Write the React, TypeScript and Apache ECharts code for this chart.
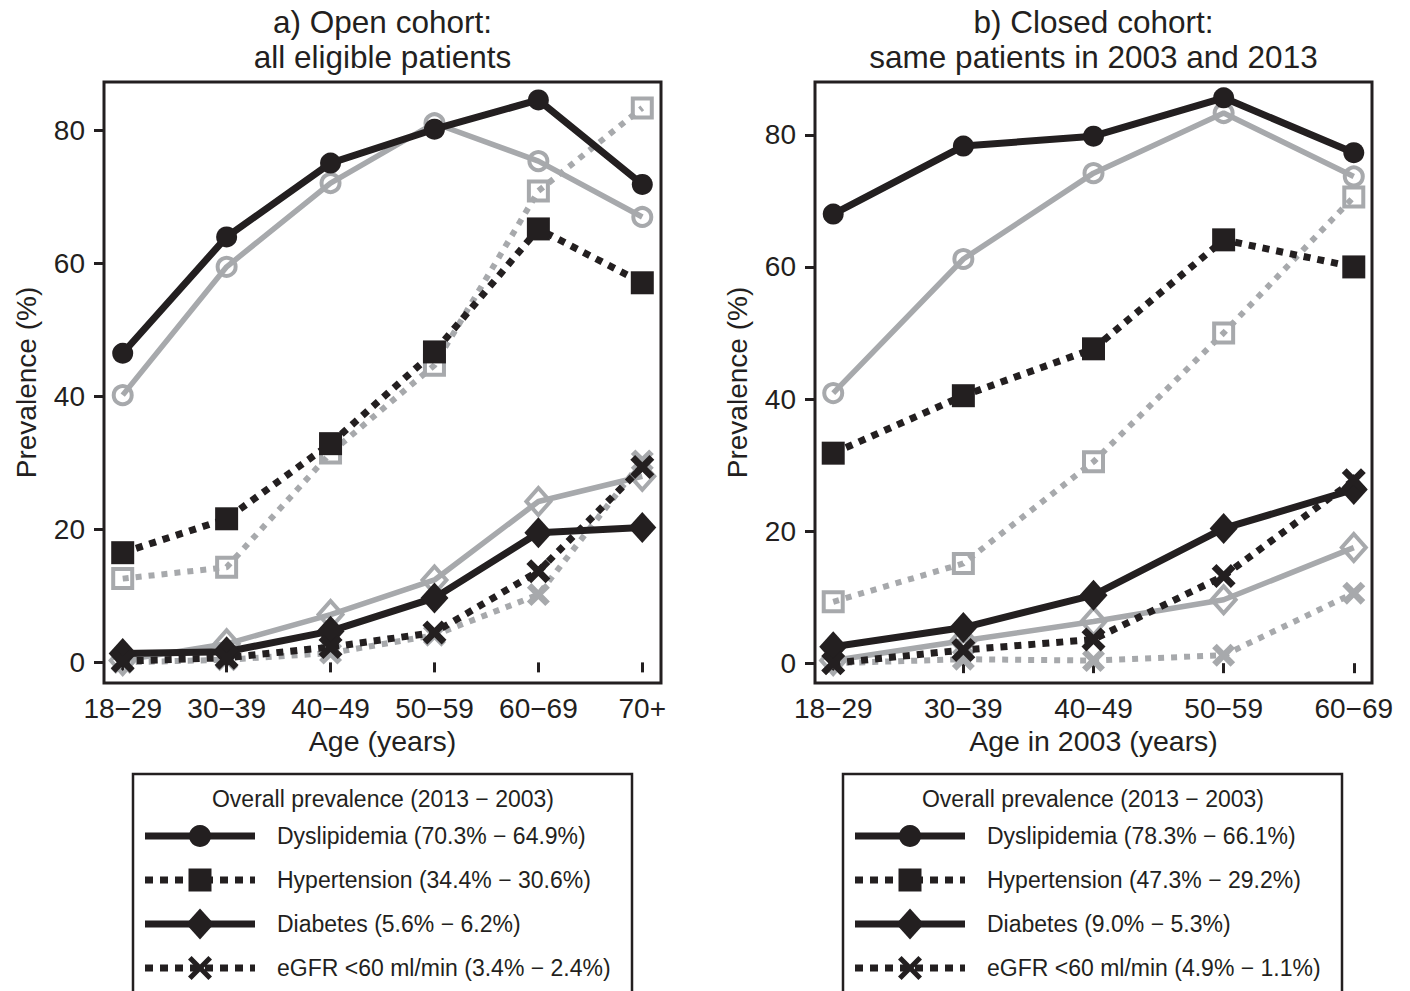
import { useEffect, useRef } from "react";
import * as echarts from "echarts";

// ---------- data ----------
const CATS_A = ["18−29", "30−39", "40−49", "50−59", "60−69", "70+"];
const CATS_B = ["18−29", "30−39", "40−49", "50−59", "60−69"];
const Y_TICKS = [0, 20, 40, 60, 80];

// Panel a) open cohort
const A_DYS_2013 = [46.5, 64.0, 75.1, 80.2, 84.6, 71.9];
const A_DYS_2003 = [40.2, 59.5, 72.1, 81.1, 75.4, 67.0];
const A_HTN_2013 = [16.5, 21.6, 32.9, 46.7, 65.2, 57.1];
const A_HTN_2003 = [12.6, 14.3, 31.5, 44.7, 70.9, 83.4];
const A_DIA_2013 = [1.35, 1.6, 4.7, 9.7, 19.5, 20.3];
const A_DIA_2003 = [0.3, 2.8, 7.2, 12.4, 24.2, 28.0];
const A_EGFR_2013 = [0.2, 0.7, 2.3, 4.5, 13.7, 29.4];
const A_EGFR_2003 = [0.0, 0.4, 1.4, 4.1, 10.2, 30.3];

// Panel b) closed cohort
const B_DYS_2013 = [68.0, 78.3, 79.8, 85.6, 77.3];
const B_DYS_2003 = [40.9, 61.2, 74.2, 83.3, 73.7];
const B_HTN_2013 = [31.8, 40.5, 47.6, 64.1, 60.0];
const B_HTN_2003 = [9.3, 15.1, 30.5, 50.0, 70.6];
const B_DIA_2013 = [2.5, 5.4, 10.3, 20.4, 26.3];
const B_DIA_2003 = [0.4, 3.4, 6.3, 9.6, 17.5];
const B_EGFR_2013 = [0.0, 2.0, 3.6, 13.2, 27.7];
const B_EGFR_2003 = [0.0, 0.6, 0.4, 1.2, 10.6];

const TITLE_A = ["a) Open cohort:", "all eligible patients"];
const TITLE_B = ["b) Closed cohort:", "same patients in 2003 and 2013"];
const X_NAME_A = "Age (years)";
const X_NAME_B = "Age in 2003 (years)";
const Y_NAME = "Prevalence (%)";
const LEGEND_TITLE = "Overall prevalence (2013 − 2003)";
const LEG_A = [
  "Dyslipidemia (70.3% − 64.9%)",
  "Hypertension (34.4% − 30.6%)",
  "Diabetes (5.6% − 6.2%)",
  "eGFR <60 ml/min (3.4% − 2.4%)",
];
const LEG_B = [
  "Dyslipidemia (78.3% − 66.1%)",
  "Hypertension (47.3% − 29.2%)",
  "Diabetes (9.0% − 5.3%)",
  "eGFR <60 ml/min (4.9% − 1.1%)",
];

// ---------- styles ----------
const BLACK = "#231f20";
const GRAY = "#a7a9ac";
const FONT = "'Liberation Sans', Arial, Helvetica, sans-serif";
const X_PATH =
  "path://M0,2 L2,0 L5,3 L8,0 L10,2 L7,5 L10,8 L8,10 L5,7 L2,10 L0,8 L3,5 Z";

type Kind = "dys" | "htn" | "dia" | "egfr";

function mkSeries(name: string, vals: number[], idx: number, kind: Kind, black: boolean) {
  const dotted = kind === "htn" || kind === "egfr";
  const color = black ? BLACK : GRAY;
  let symbol = "circle";
  let symbolSize: any = 21;
  if (kind === "dys") symbolSize = black ? 21 : 18;
  if (kind === "htn") {
    symbol = "rect";
    symbolSize = black ? 23 : 19;
  }
  if (kind === "dia") {
    symbol = "diamond";
    symbolSize = black ? [28, 31] : [24, 27];
  }
  if (kind === "egfr") {
    symbol = X_PATH;
    symbolSize = black ? 24 : 23;
  }
  const hollow = !black && kind !== "egfr";
  return {
    type: "line",
    name,
    xAxisIndex: idx,
    yAxisIndex: idx,
    data: vals.map((v, i) => [i + 1, v]),
    symbol,
    symbolSize,
    showAllSymbol: true,
    z: black ? 3 : 2,
    itemStyle: hollow
      ? { color: "rgba(255,255,255,0)", borderColor: GRAY, borderWidth: 4 }
      : { color, borderWidth: 0 },
    lineStyle: {
      color,
      width: black ? 7 : dotted ? 6 : 5.5,
      type: dotted ? (black ? [7, 7] : [6, 7]) : "solid",
      cap: "butt",
    },
    emphasis: { disabled: true },
  };
}

function axisCommon() {
  return {
    axisLine: { show: false },
    splitLine: { show: false },
  };
}

function legendGraphics(boxLeft: number, labels: string[]) {
  const els: any[] = [];
  const top = 774;
  els.push({
    type: "rect",
    shape: { x: boxLeft, y: top, width: 499, height: 240 },
    style: { fill: "#fff", stroke: BLACK, lineWidth: 2.5 },
  });
  const cx = boxLeft + 250;
  els.push({
    type: "text",
    style: {
      text: LEGEND_TITLE,
      x: cx,
      y: 799,
      textAlign: "center",
      textVerticalAlign: "middle",
      font: `23px ${FONT}`,
      fill: BLACK,
    },
  });
  const rows = [836, 880, 924, 968];
  const kinds: Kind[] = ["dys", "htn", "dia", "egfr"];
  const x0 = boxLeft + 12;
  const x1 = boxLeft + 122;
  const mx = boxLeft + 67;
  rows.forEach((y, i) => {
    const kind = kinds[i];
    const dotted = kind === "htn" || kind === "egfr";
    els.push({
      type: "line",
      shape: { x1: x0, y1: y, x2: x1, y2: y },
      style: {
        stroke: BLACK,
        lineWidth: 7,
        lineDash: dotted ? [8, 7] : null,
        lineCap: "butt",
      },
    });
    if (kind === "dys") {
      els.push({ type: "circle", shape: { cx: mx, cy: y, r: 11 }, style: { fill: BLACK } });
    } else if (kind === "htn") {
      els.push({
        type: "rect",
        shape: { x: mx - 11.5, y: y - 11.5, width: 23, height: 23 },
        style: { fill: BLACK },
      });
    } else if (kind === "dia") {
      els.push({
        type: "polygon",
        shape: {
          points: [
            [mx, y - 15.5],
            [mx + 14, y],
            [mx, y + 15.5],
            [mx - 14, y],
          ],
        },
        style: { fill: BLACK },
      });
    } else {
      const s = 12;
      const t = 3.6;
      els.push({
        type: "polygon",
        shape: {
          points: [
            [mx - s, y - s + t],
            [mx - s + t, y - s],
            [mx, y - t],
            [mx + s - t, y - s],
            [mx + s, y - s + t],
            [mx + t, y],
            [mx + s, y + s - t],
            [mx + s - t, y + s],
            [mx, y + t],
            [mx - s + t, y + s],
            [mx - s, y + s - t],
            [mx - t, y],
          ],
        },
        style: { fill: BLACK },
      });
    }
    els.push({
      type: "text",
      style: {
        text: labels[i],
        x: boxLeft + 144,
        y,
        textAlign: "left",
        textVerticalAlign: "middle",
        font: `23px ${FONT}`,
        fill: BLACK,
      },
    });
  });
  return els;
}

function titleGraphics(cx: number, lines: string[]) {
  return lines.map((t, i) => ({
    type: "text",
    style: {
      text: t,
      x: cx,
      y: 22 + i * 35,
      textAlign: "center",
      textVerticalAlign: "middle",
      font: `31.5px ${FONT}`,
      fill: BLACK,
    },
  }));
}

export default function App() {
  const ref = useRef<HTMLDivElement>(null);
  useEffect(() => {
    document.body.style.margin = "0";
    if (!ref.current) return;
    const chart = echarts.init(ref.current, null, { renderer: "svg" });

    const grids = [
      { left: 104, top: 82, width: 557, height: 601 },
      { left: 815, top: 82, width: 557, height: 601 },
    ].map((g) => ({
      ...g,
      show: true,
      borderColor: BLACK,
      borderWidth: 3,
      backgroundColor: "transparent",
    }));

    const tickStyle = { length: 10, lineStyle: { width: 3, color: BLACK } };
    const labelStyle = { fontSize: 28, color: BLACK, fontFamily: FONT };
    const nameStyle = { fontSize: 28.5, color: BLACK, fontFamily: FONT };

    const xAxes = [
      { cats: CATS_A, min: 0.82, max: 6.18, name: X_NAME_A },
      { cats: CATS_B, min: 0.86, max: 5.14, name: X_NAME_B },
    ].map((a, i) => ({
      type: "value",
      gridIndex: i,
      min: a.min,
      max: a.max,
      ...axisCommon(),
      axisTick: { show: true, customValues: a.cats.map((_, k) => k + 1), ...tickStyle },
      axisLabel: {
        ...labelStyle,
        margin: 11,
        customValues: a.cats.map((_, k) => k + 1),
        formatter: (v: number) => a.cats[Math.round(v) - 1] ?? "",
      },
      name: a.name,
      nameLocation: "middle",
      nameGap: 43,
      nameTextStyle: { ...nameStyle },
    }));

    const yAxes = [
      { min: -3.1, max: 87.3 },
      { min: -3.0, max: 88.0 },
    ].map((a, i) => ({
      type: "value",
      gridIndex: i,
      min: a.min,
      max: a.max,
      ...axisCommon(),
      axisTick: { show: true, customValues: Y_TICKS, ...tickStyle },
      axisLabel: {
        ...labelStyle,
        margin: 19,
        customValues: Y_TICKS,
        formatter: (v: number) => String(v),
      },
      name: Y_NAME,
      nameLocation: "middle",
      nameGap: 64,
      nameRotate: 90,
      nameTextStyle: { ...labelStyle },
    }));

    const series = [
      mkSeries("Dyslipidemia 2003", A_DYS_2003, 0, "dys", false),
      mkSeries("Hypertension 2003", A_HTN_2003, 0, "htn", false),
      mkSeries("Diabetes 2003", A_DIA_2003, 0, "dia", false),
      mkSeries("eGFR 2003", A_EGFR_2003, 0, "egfr", false),
      mkSeries("Dyslipidemia 2013", A_DYS_2013, 0, "dys", true),
      mkSeries("Hypertension 2013", A_HTN_2013, 0, "htn", true),
      mkSeries("Diabetes 2013", A_DIA_2013, 0, "dia", true),
      mkSeries("eGFR 2013", A_EGFR_2013, 0, "egfr", true),
      mkSeries("Dyslipidemia 2003", B_DYS_2003, 1, "dys", false),
      mkSeries("Hypertension 2003", B_HTN_2003, 1, "htn", false),
      mkSeries("Diabetes 2003", B_DIA_2003, 1, "dia", false),
      mkSeries("eGFR 2003", B_EGFR_2003, 1, "egfr", false),
      mkSeries("Dyslipidemia 2013", B_DYS_2013, 1, "dys", true),
      mkSeries("Hypertension 2013", B_HTN_2013, 1, "htn", true),
      mkSeries("Diabetes 2013", B_DIA_2013, 1, "dia", true),
      mkSeries("eGFR 2013", B_EGFR_2013, 1, "egfr", true),
    ];

    chart.setOption({
      animation: false,
      backgroundColor: "#ffffff",
      textStyle: { fontFamily: FONT },
      grid: grids,
      xAxis: xAxes,
      yAxis: yAxes,
      series,
      graphic: [
        ...titleGraphics(382.5, TITLE_A),
        ...titleGraphics(1093.5, TITLE_B),
        ...legendGraphics(133, LEG_A),
        ...legendGraphics(843, LEG_B),
      ],
    });
    return () => chart.dispose();
  }, []);
  return <div ref={ref} style={{ width: 1410, height: 991 }} />;
}
